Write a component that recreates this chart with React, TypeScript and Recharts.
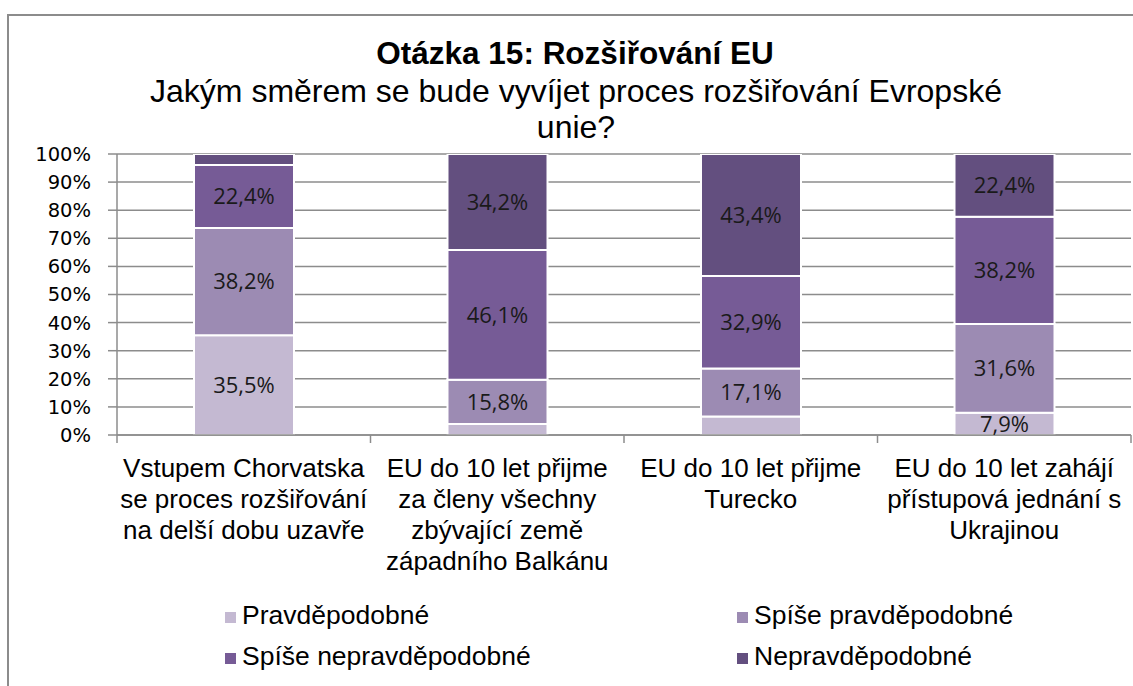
import React from 'react';
import { BarChart, Bar, XAxis, YAxis, CartesianGrid, LabelList } from 'recharts';

const categories = [
  'Vstupem Chorvatska\nse proces rozšiřování\nna delší dobu uzavře',
  'EU do 10 let přijme\nza členy všechny\nzbývající země\nzápadního Balkánu',
  'EU do 10 let přijme\nTurecko',
  'EU do 10 let zahájí\npřístupová jednání s\nUkrajinou',
];
const pravdepodobne = [35.5, 3.9, 6.6, 7.9];
const spisePravdepodobne = [38.2, 15.8, 17.1, 31.6];
const spiseNepravdepodobne = [22.4, 46.1, 32.9, 38.2];
const nepravdepodobne = [3.9, 34.2, 43.4, 22.4];

const seriesNames = ['Pravděpodobné', 'Spíše pravděpodobné', 'Spíše nepravděpodobné', 'Nepravděpodobné'];
const seriesKeys = ['s0', 's1', 's2', 's3'];
const seriesColors = ['#C4B9D2', '#9C8BB3', '#765B96', '#634F7F'];
const seriesValues = [pravdepodobne, spisePravdepodobne, spiseNepravdepodobne, nepravdepodobne];

const yTicks = [0, 10, 20, 30, 40, 50, 60, 70, 80, 90, 100];

const titleText = 'Otázka 15: Rozšiřování EU';
const subtitleLines = ['Jakým směrem se bude vyvíjet proces rozšiřování Evropské', 'unie?'];

const data = categories.map((name, i) => {
  const row: any = { name };
  seriesKeys.forEach((k, j) => {
    row[k] = seriesValues[j][i];
  });
  return row;
});

const ARIAL = '"Liberation Sans", Arial, sans-serif';
const LABEL_FONT = '"Open Sans", sans-serif';
const TICK_FONT = '"DejaVu Sans", sans-serif';
const AXIS_GRAY = '#8c8c8c';

const fmt = (v: any) => {
  const n = Number(v);
  if (!isFinite(n) || n < 7) return '';
  return n.toFixed(1).replace('.', ',') + '%';
};

const CategoryTick = (props: any) => {
  const { x, y, payload, index, width, visibleTicksCount } = props;
  const count = visibleTicksCount || categories.length;
  const half = (Number(width) || 1014) / count / 2;
  const lines = String(payload.value).split('\n');
  return (
    <g>
      <line x1={x - half} x2={x - half} y1={y} y2={y + 8} stroke={AXIS_GRAY} strokeWidth={1.5} />
      {index === count - 1 && (
        <line x1={x + half} x2={x + half} y1={y} y2={y + 8} stroke={AXIS_GRAY} strokeWidth={1.5} />
      )}
      <text x={x} y={y} textAnchor="middle" fontFamily={ARIAL} fontSize={26} fill="#000">
        {lines.map((l, i) => (
          <tspan key={i} x={x} y={y + 42 + i * 31}>
            {l}
          </tspan>
        ))}
      </text>
    </g>
  );
};

const legendCols = [225, 737];
const legendRows = [624, 665];

export default function App() {
  return (
    <div
      style={{
        position: 'absolute',
        left: 0,
        top: 0,
        width: 1133,
        height: 686,
        overflow: 'hidden',
        background: '#fff',
      }}
    >
      <div
        style={{
          position: 'absolute',
          left: 7,
          top: 14,
          width: 1300,
          height: 900,
          borderLeft: '2px solid #8c8c8c',
          borderTop: '2px solid #8c8c8c',
        }}
      />
      <div style={{ position: 'absolute', left: 0, top: 0 }}>
        <BarChart
          width={1133}
          height={686}
          data={data}
          margin={{ top: 154, right: 2, bottom: 101, left: 37 }}
          barSize={100}
        >
          <CartesianGrid vertical={false} stroke={AXIS_GRAY} strokeWidth={1.5} />
          <XAxis
            dataKey="name"
            type="category"
            height={150}
            tickLine={false}
            tickSize={0}
            tickMargin={0}
            axisLine={{ stroke: AXIS_GRAY, strokeWidth: 1.5 }}
            tick={<CategoryTick />}
            interval={0}
          />
          <YAxis
            type="number"
            domain={[0, 100]}
            ticks={yTicks}
            interval={0}
            allowDataOverflow
            width={80}
            tickSize={9}
            tickMargin={17}
            tickFormatter={(v: any) => `${v}%`}
            axisLine={{ stroke: AXIS_GRAY, strokeWidth: 1.5 }}
            tickLine={{ stroke: AXIS_GRAY, strokeWidth: 1.5 }}
            tick={{ fontFamily: TICK_FONT, fontSize: 19.5, fill: '#000' }}
          />
          {seriesKeys.map((k, j) => (
            <Bar
              key={k}
              dataKey={k}
              name={seriesNames[j]}
              stackId="a"
              fill={seriesColors[j]}
              stroke="#ffffff"
              strokeWidth={2}
              isAnimationActive={false}
            >
              <LabelList
                dataKey={k}
                position="center"
                formatter={fmt}
                style={{ fontFamily: LABEL_FONT, fontSize: 22, fill: '#1a1a1a' }}
              />
            </Bar>
          ))}
        </BarChart>
      </div>
      <svg
        width={1133}
        height={686}
        style={{ position: 'absolute', left: 0, top: 0, pointerEvents: 'none' }}
      >
        <text x={575} y={64} textAnchor="middle" fontFamily={ARIAL} fontWeight="bold" fontSize={31.5} fill="#000">
          {titleText}
        </text>
        {subtitleLines.map((l, i) => (
          <text key={i} x={576} y={102 + i * 36} textAnchor="middle" fontFamily={ARIAL} fontSize={32} fill="#000">
            {l}
          </text>
        ))}
        {seriesNames.map((n, j) => {
          const cx = legendCols[j % 2];
          const by = legendRows[Math.floor(j / 2)];
          return (
            <g key={n}>
              <rect x={cx} y={by - 12} width={11} height={11} fill={seriesColors[j]} />
              <text x={cx + 17} y={by} fontFamily={ARIAL} fontSize={26.5} fill="#000">
                {n}
              </text>
            </g>
          );
        })}
      </svg>
    </div>
  );
}
